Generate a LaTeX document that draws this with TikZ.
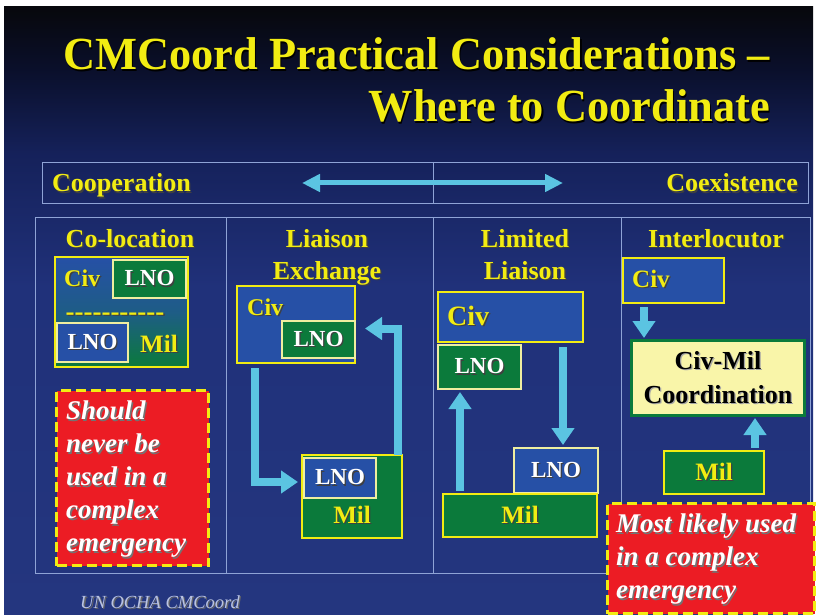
\documentclass[tikz,border=0pt]{standalone}
\usepackage{fontspec}
\setmainfont{Liberation Serif}
\usetikzlibrary{arrows.meta,calc}
\definecolor{yel}{HTML}{F2EC12}
\definecolor{lyel}{HTML}{EFEEA0}
\definecolor{boxblue}{HTML}{2650A6}
\definecolor{boxgreen}{HTML}{0B7A3B}
\definecolor{cyanA}{HTML}{5BC4E2}
\definecolor{redA}{HTML}{EC1C24}
\definecolor{coordfill}{HTML}{F9F5A9}
\definecolor{panelline}{HTML}{8FA3D6}
\definecolor{footc}{HTML}{B9C3E3}
\definecolor{bgA}{HTML}{24367F}
\definecolor{bgB}{HTML}{20317A}
\definecolor{bgC}{HTML}{15215A}
\definecolor{bgD}{HTML}{0A0F2A}
\definecolor{bgE}{HTML}{07080C}
\pgfdeclareverticalshading{slidebg}{100bp}{color(0bp)=(bgA); color(25bp)=(bgA); color(52bp)=(bgB); color(63bp)=(bgC); color(70bp)=(bgD); color(75bp)=(bgE); color(100bp)=(bgE)}
\newcommand\shtxt[3][black!75]{\makebox[0pt][l]{\kern1.3pt\raisebox{-1.3pt}{\textcolor{#1}{#3}}}\textcolor{#2}{#3}}
\begin{document}
\begin{tikzpicture}[x=1pt,y=-1pt,
  panel/.style={draw=panelline, line width=0.9pt},
  box/.style={draw=yel, line width=2.5pt, anchor=north west, inner sep=0pt, outer sep=0pt},
  bluebox/.style={box, fill=boxblue},
  greenbox/.style={box, fill=boxgreen},
  lnobox/.style={draw=lyel, line width=2pt, anchor=north west, inner sep=0pt, outer sep=0pt, font=\fontsize{23}{26}\selectfont\bfseries},
  lbl/.style={font=\fontsize{24}{26}\selectfont\bfseries, inner sep=0pt},
  head/.style={font=\fontsize{26}{32}\selectfont\bfseries, align=center, inner sep=0pt},
  redbox/.style={fill=redA, draw=yel, line width=3pt, dash pattern=on 10pt off 5pt, anchor=north west, inner sep=0pt},
  redtxt/.style={font=\fontsize{27}{33}\selectfont\bfseries\itshape, align=left, inner sep=0pt, anchor=north west},
  arr/.style={draw=cyanA, line width=8pt, -{Triangle[width=22pt,length=17pt]}}
]
\useasboundingbox (0,0) rectangle (817,615);
\shade[shading=slidebg] (4,7) rectangle (813,615);

% title
\node[anchor=base west, inner sep=0pt] (title1) at (63,70)
  {\fontsize{46}{50}\selectfont\bfseries\scalebox{0.965}[1]{\shtxt[black]{yel}{CMCoord Practical Considerations –}}};
\node[anchor=base east, inner sep=0pt] (title2) at (770,122)
  {\fontsize{46}{50}\selectfont\bfseries\scalebox{0.965}[1]{\shtxt[black]{yel}{Where to Coordinate}}};

% top bar
\node[panel, anchor=north west, minimum width=766pt, minimum height=41pt, inner sep=0pt] (bar) at (42,162) {};
\draw[panel] (433,162) -- (433,203);
\node[lbl, font=\fontsize{26}{30}\selectfont\bfseries, anchor=base west] (coop) at (52,192) {\shtxt{yel}{Cooperation}};
\node[lbl, font=\fontsize{26}{30}\selectfont\bfseries, anchor=base east] (coex) at (798,192) {\shtxt{yel}{Coexistence}};
\coordinate (la) at (302,183);
\coordinate (ra) at (563,183);
\draw[draw=cyanA, line width=5pt, {Triangle[width=17pt,length=18pt]}-{Triangle[width=17pt,length=18pt]}] (la) -- (ra);

% main panel
\node[panel, anchor=north west, minimum width=775pt, minimum height=356pt, inner sep=0pt] (main) at (35,217) {};
\draw[panel] (226,217) -- (226,573);
\draw[panel] (433,217) -- (433,573);
\draw[panel] (621,217) -- (621,573);

% headers
\node[head, anchor=base] (h1) at (130,247) {\shtxt{yel}{Co-location}};
\node[head, anchor=north] (h2) at (327,229) {\shtxt{yel}{Liaison}\\\shtxt{yel}{Exchange}};
\node[head, anchor=north] (h3) at (525,229) {\shtxt{yel}{Limited}\\\shtxt{yel}{Liaison}};
\node[head, anchor=base] (h4) at (716,247) {\shtxt{yel}{Interlocutor}};

% column 1
\node[box, top color=boxblue, bottom color=boxgreen, middle color=boxblue!70!boxgreen, minimum width=133pt, minimum height=110pt] (c1box) at (55,257) {};
\node[lnobox, fill=boxgreen, minimum width=73pt, minimum height=38pt] (c1lno) at (113,260) {\shtxt{white}{LNO}};
\node[lbl, anchor=base west] (c1civ) at (64,286) {\shtxt{yel}{Civ}};
\node[lbl, font=\fontsize{27}{30}\selectfont\bfseries, anchor=base] (c1dash) at (115,320) {\shtxt{yel}{-{}-{}-{}-{}-{}-{}-{}-{}-{}-{}-}};
\node[lnobox, fill=boxblue, minimum width=71pt, minimum height=39pt] (c1lno2) at (57,323) {\shtxt{white}{LNO}};
\node[lbl, font=\fontsize{25}{28}\selectfont\bfseries, anchor=base west] (c1mil) at (140,352) {\shtxt{yel}{Mil}};
\node[redbox, minimum width=152pt, minimum height=175pt] (red1) at (55,389) {};
\node[redtxt] (red1t) at (66,401) {\shtxt[black!55]{white}{Should}\\\shtxt[black!55]{white}{never be}\\\shtxt[black!55]{white}{used in a}\\\shtxt[black!55]{white}{complex}\\\shtxt[black!55]{white}{emergency}};

% column 2
\node[bluebox, minimum width=118pt, minimum height=77pt] (c2civ) at (237,286) {};
\node[lbl, anchor=base west] (c2civt) at (247,315) {\shtxt{yel}{Civ}};
\node[lnobox, fill=boxgreen, minimum width=73pt, minimum height=37pt] (c2lno) at (282,321) {\shtxt{white}{LNO}};
\node[greenbox, minimum width=100pt, minimum height=83pt] (c2mil) at (302,455) {};
\node[lnobox, fill=boxblue, minimum width=72pt, minimum height=40pt] (c2lno2) at (304,458) {\shtxt{white}{LNO}};
\node[lbl, font=\fontsize{25}{28}\selectfont\bfseries, anchor=base] (c2milt) at (352,523) {\shtxt{yel}{Mil}};
\draw[arr] ($(c2civ.south west)+(18,5)$) |- ($(c2mil.west |- c2lno2.west)+(-4,4)$);
\draw[arr] ($(c2mil.north east)+(-4,0)$) |- ($(c2civ.east)+(10,4)$);

% column 3
\node[bluebox, minimum width=145pt, minimum height=50pt] (c3civ) at (438,292) {};
\node[lbl, font=\fontsize{28}{30}\selectfont\bfseries, anchor=base west] (c3civt) at (447,325) {\shtxt{yel}{Civ}};
\node[lnobox, fill=boxgreen, minimum width=83pt, minimum height=44pt] (c3lno) at (438,345) {\shtxt{white}{LNO}};
\node[lnobox, fill=boxblue, minimum width=84pt, minimum height=45pt] (c3lno2) at (514,448) {\shtxt{white}{LNO}};
\node[greenbox, minimum width=154pt, minimum height=43pt, font=\fontsize{25}{28}\selectfont\bfseries] (c3mil) at (443,494) {\shtxt{yel}{Mil}};
\draw[arr] ($(c3mil.north west)+(17,-3)$) -- ($(c3lno.south west)+(22,3)$);
\draw[arr] ($(c3civ.south east)+(-20,5)$) -- ($(c3lno2.north east)+(-35,-3)$);

% column 4
\node[bluebox, minimum width=101pt, minimum height=45pt] (c4civ) at (623,258) {};
\node[lbl, font=\fontsize{25}{28}\selectfont\bfseries, anchor=base west] (c4civt) at (632,287) {\shtxt{yel}{Civ}};
\node[draw=boxgreen, fill=coordfill, line width=3pt, anchor=north west, inner sep=0pt, minimum width=173pt, minimum height=75pt, align=center, font=\fontsize{26}{34}\selectfont\bfseries] (c4coord) at (630,339) {\shtxt[black!35]{black}{Civ-Mil}\\\shtxt[black!35]{black}{Coordination}};
\node[greenbox, minimum width=100pt, minimum height=43pt, font=\fontsize{25}{28}\selectfont\bfseries] (c4mil) at (664,451) {\shtxt{yel}{Mil}};
\draw[arr] ($(c4civ.south west)+(21,4)$) -- ($(c4coord.north west)+(14,-1)$);
\draw[arr] ($(c4mil.north west)+(91,-3)$) -- ($(c4coord.south west)+(125,1)$);

\node[redbox, minimum width=207pt, minimum height=110pt] (red4) at (606,502) {};
\node[redtxt] (red4t) at (616,514) {\shtxt[black!55]{white}{Most likely used}\\\shtxt[black!55]{white}{in a complex}\\\shtxt[black!55]{white}{emergency}};

% footer
\node[anchor=base west, inner sep=0pt, font=\fontsize{18.5}{20}\selectfont\itshape] (foot) at (80,608) {\shtxt[black!60]{footc}{UN OCHA CMCoord}};
\end{tikzpicture}
\end{document}
